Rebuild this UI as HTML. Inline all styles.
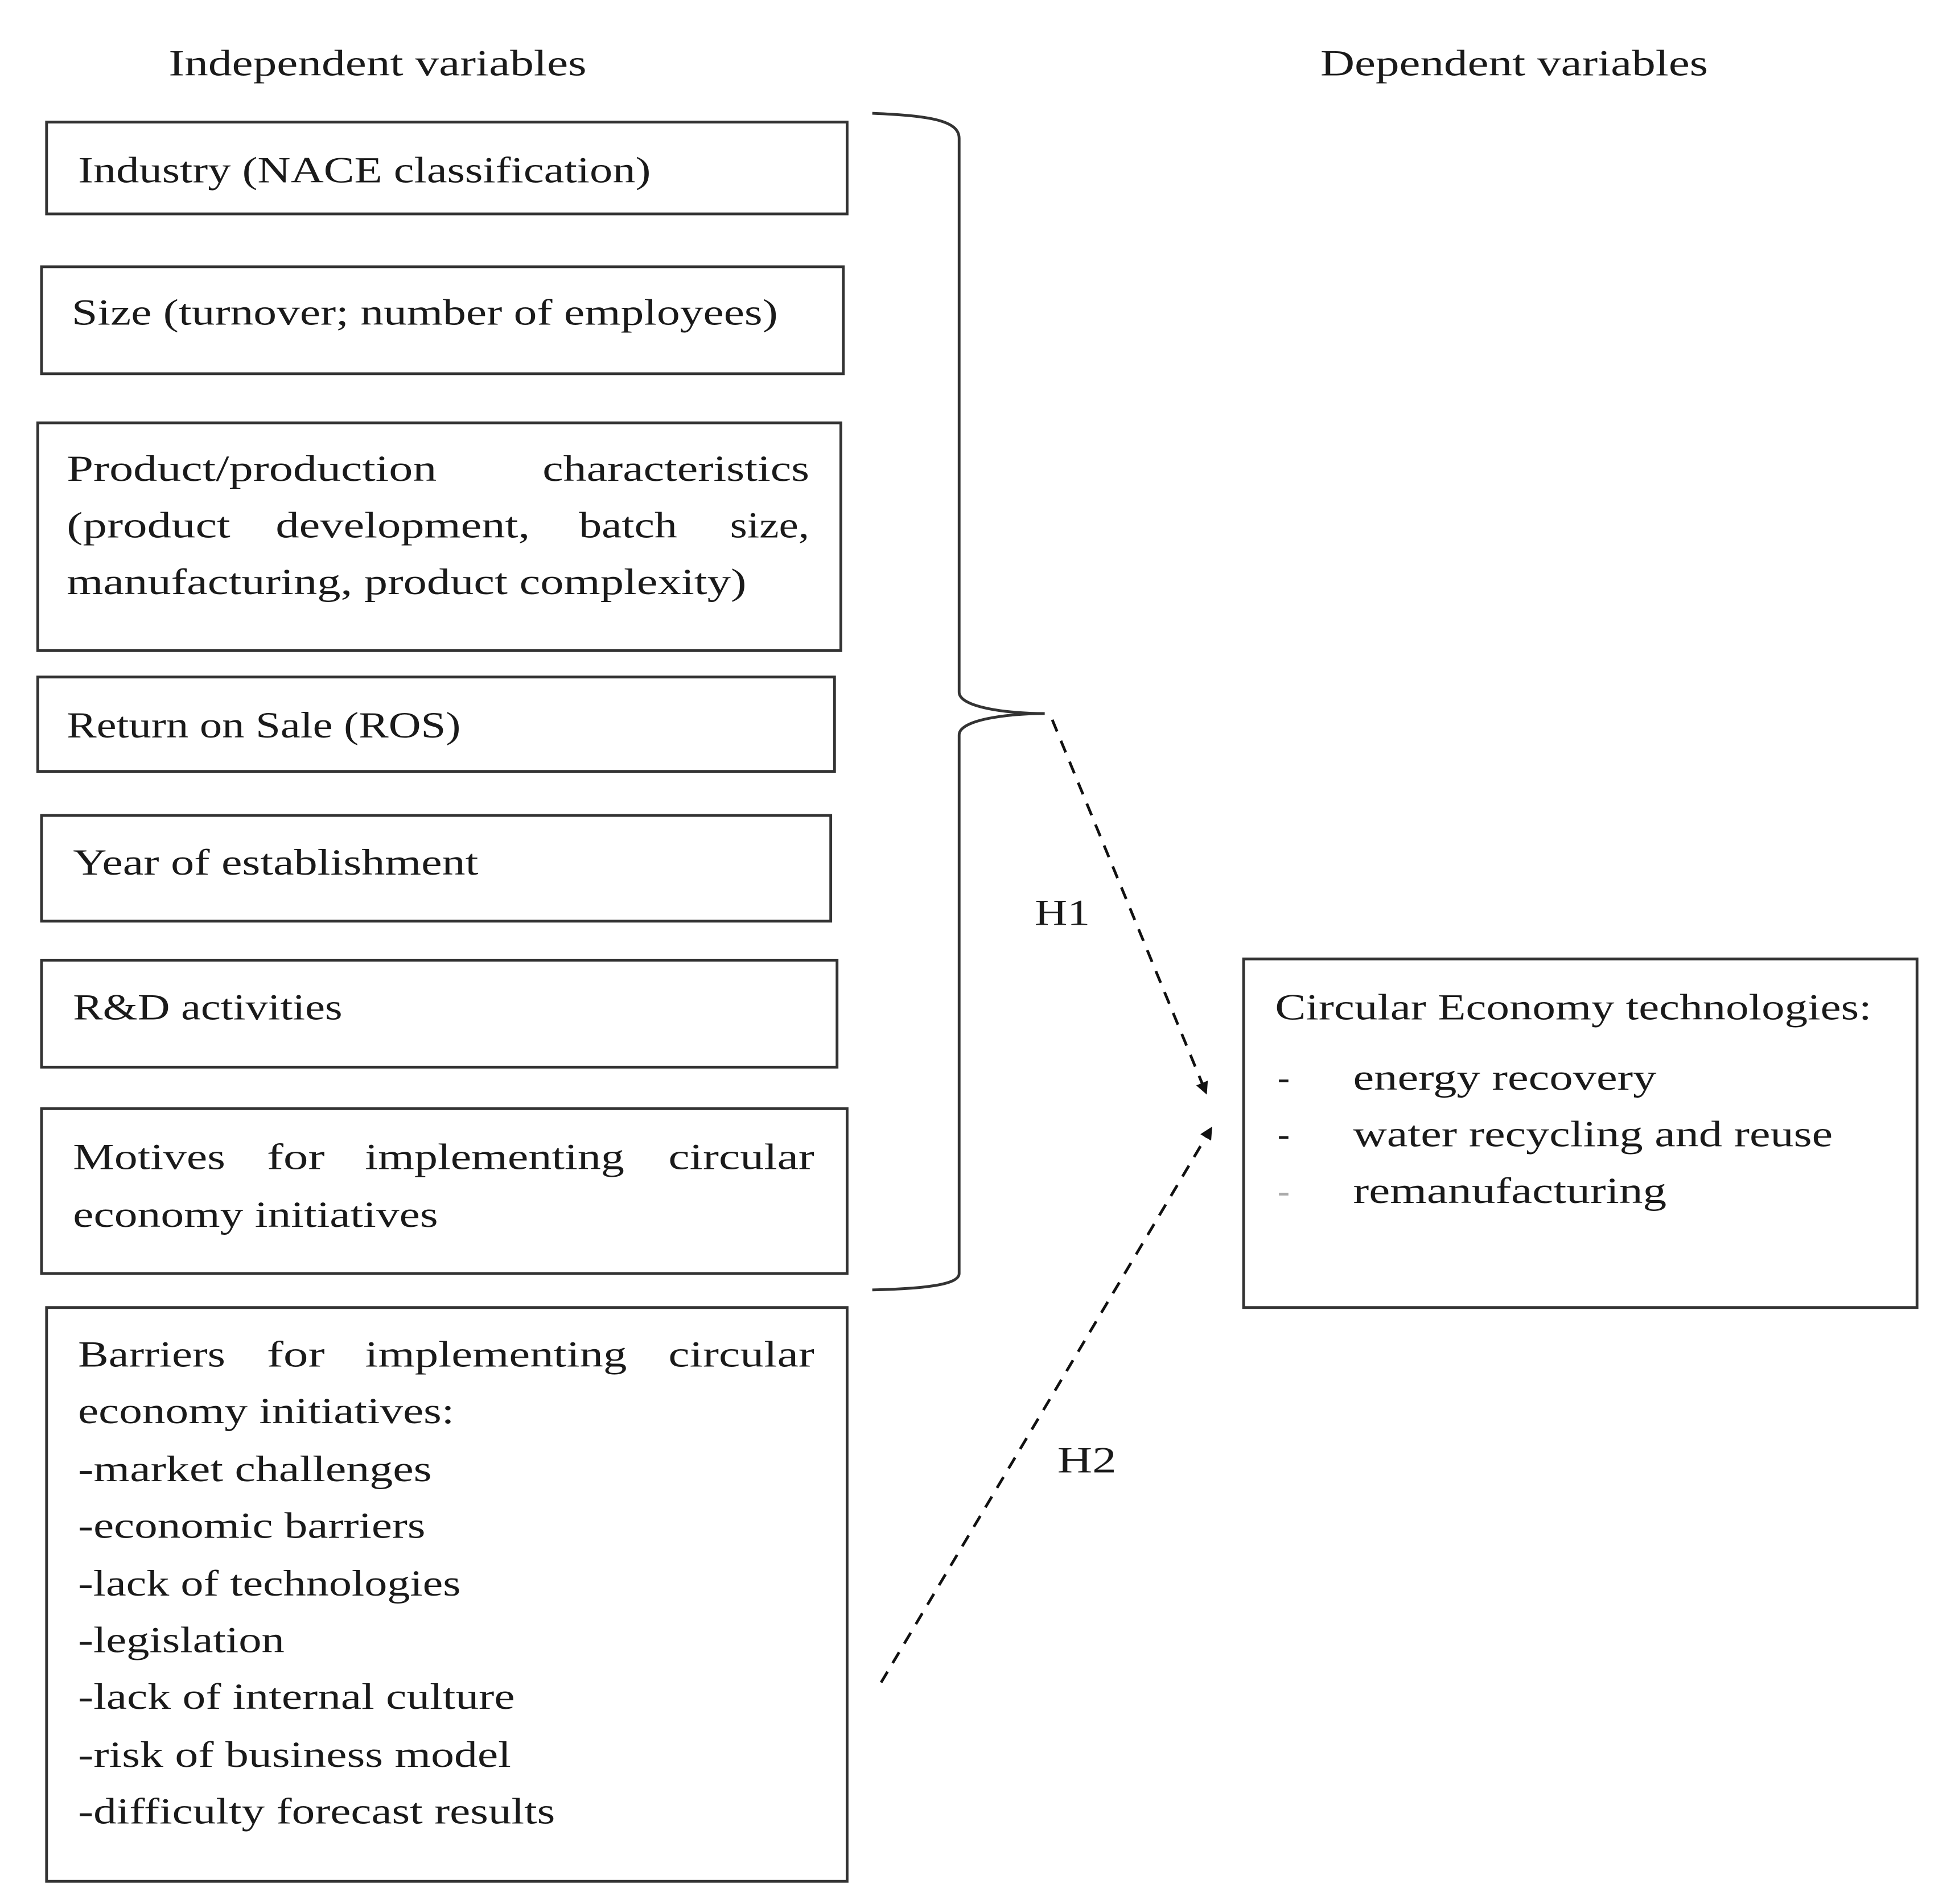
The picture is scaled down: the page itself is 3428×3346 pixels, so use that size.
<!DOCTYPE html>
<html><head><meta charset="utf-8"><style>
html,body{margin:0;padding:0;background:#fff}
svg{display:block}
text{font-family:"Liberation Serif",serif;font-size:29px;fill:#1a1a1a}
</style></head><body>
<svg width="3428" height="3346" viewBox="0 0 1550 1513" preserveAspectRatio="none" xmlns="http://www.w3.org/2000/svg">
<defs>
<marker id="ah" markerWidth="10" markerHeight="10" refX="8" refY="5" orient="auto" markerUnits="userSpaceOnUse">
<path d="M0,0 L10,5 L0,10 z" fill="#111"/>
</marker>
</defs>
<g lengthAdjust="spacingAndGlyphs">
<text x="134" y="60" textLength="332" lengthAdjust="spacingAndGlyphs">Independent variables</text>
<text x="1049" y="60" textLength="308" lengthAdjust="spacingAndGlyphs">Dependent variables</text>
</g>
<g fill="none" stroke="#333" stroke-width="2.2">
<rect x="37" y="97" width="636" height="73"/>
<rect x="33" y="212" width="637" height="85"/>
<rect x="30" y="336" width="638" height="181"/>
<rect x="30" y="538" width="633" height="75"/>
<rect x="33" y="648" width="627" height="84"/>
<rect x="33" y="763" width="632" height="85"/>
<rect x="33" y="881" width="640" height="131"/>
<rect x="37" y="1039" width="636" height="456"/>
<rect x="988" y="762" width="535" height="277"/>
<path d="M693,90 C740,92 762,96 762,110 L762,550 C762,562 800,567 830,567 C800,567 762,572 762,584 L762,1012 C762,1020 740,1024 693,1025"/>
</g>
<g stroke="#111" stroke-width="2.2" stroke-dasharray="10,8" fill="none">
<line x1="836" y1="572" x2="958" y2="868" marker-end="url(#ah)"/>
<line x1="700" y1="1337" x2="962" y2="897" marker-end="url(#ah)"/>
</g>
<text x="822" y="735" textLength="44" lengthAdjust="spacingAndGlyphs">H1</text>
<text x="840" y="1170" textLength="47" lengthAdjust="spacingAndGlyphs">H2</text>

<text x="62" y="145" textLength="455" lengthAdjust="spacingAndGlyphs">Industry (NACE classification)</text>
<text x="57" y="258" textLength="561" lengthAdjust="spacingAndGlyphs">Size (turnover; number of employees)</text>

<text x="53" y="382" textLength="294" lengthAdjust="spacingAndGlyphs">Product/production</text>
<text x="431" y="382" textLength="212" lengthAdjust="spacingAndGlyphs">characteristics</text>
<text x="53" y="427" textLength="130" lengthAdjust="spacingAndGlyphs">(product</text>
<text x="219" y="427" textLength="202" lengthAdjust="spacingAndGlyphs">development,</text>
<text x="460" y="427" textLength="78" lengthAdjust="spacingAndGlyphs">batch</text>
<text x="580" y="427" textLength="63" lengthAdjust="spacingAndGlyphs">size,</text>
<text x="53" y="472" textLength="540" lengthAdjust="spacingAndGlyphs">manufacturing, product complexity)</text>

<text x="53" y="586" textLength="313" lengthAdjust="spacingAndGlyphs">Return on Sale (ROS)</text>
<text x="58" y="695" textLength="322" lengthAdjust="spacingAndGlyphs">Year of establishment</text>
<text x="58" y="810" textLength="214" lengthAdjust="spacingAndGlyphs">R&amp;D activities</text>

<text x="58" y="929" textLength="121" lengthAdjust="spacingAndGlyphs">Motives</text>
<text x="212" y="929" textLength="46" lengthAdjust="spacingAndGlyphs">for</text>
<text x="290" y="929" textLength="206" lengthAdjust="spacingAndGlyphs">implementing</text>
<text x="531" y="929" textLength="116" lengthAdjust="spacingAndGlyphs">circular</text>
<text x="58" y="975" textLength="290" lengthAdjust="spacingAndGlyphs">economy initiatives</text>

<text x="62" y="1086" textLength="117" lengthAdjust="spacingAndGlyphs">Barriers</text>
<text x="212" y="1086" textLength="46" lengthAdjust="spacingAndGlyphs">for</text>
<text x="290" y="1086" textLength="208" lengthAdjust="spacingAndGlyphs">implementing</text>
<text x="531" y="1086" textLength="116" lengthAdjust="spacingAndGlyphs">circular</text>
<text x="62" y="1131" textLength="299" lengthAdjust="spacingAndGlyphs">economy initiatives:</text>
<text x="62" y="1177" textLength="281" lengthAdjust="spacingAndGlyphs">-market challenges</text>
<text x="62" y="1222" textLength="276" lengthAdjust="spacingAndGlyphs">-economic barriers</text>
<text x="62" y="1268" textLength="304" lengthAdjust="spacingAndGlyphs">-lack of technologies</text>
<text x="62" y="1313" textLength="164" lengthAdjust="spacingAndGlyphs">-legislation</text>
<text x="62" y="1358" textLength="347" lengthAdjust="spacingAndGlyphs">-lack of internal culture</text>
<text x="62" y="1404" textLength="344" lengthAdjust="spacingAndGlyphs">-risk of business model</text>
<text x="62" y="1449" textLength="379" lengthAdjust="spacingAndGlyphs">-difficulty forecast results</text>

<text x="1013" y="810" textLength="474" lengthAdjust="spacingAndGlyphs">Circular Economy technologies:</text>
<text x="1015" y="866">-</text>
<text x="1075" y="866" textLength="241" lengthAdjust="spacingAndGlyphs">energy recovery</text>
<text x="1015" y="911">-</text>
<text x="1075" y="911" textLength="381" lengthAdjust="spacingAndGlyphs">water recycling and reuse</text>
<text x="1015" y="956" style="fill:#aaa">-</text>
<text x="1075" y="956" textLength="249" lengthAdjust="spacingAndGlyphs">remanufacturing</text>
</svg>
</body></html>
